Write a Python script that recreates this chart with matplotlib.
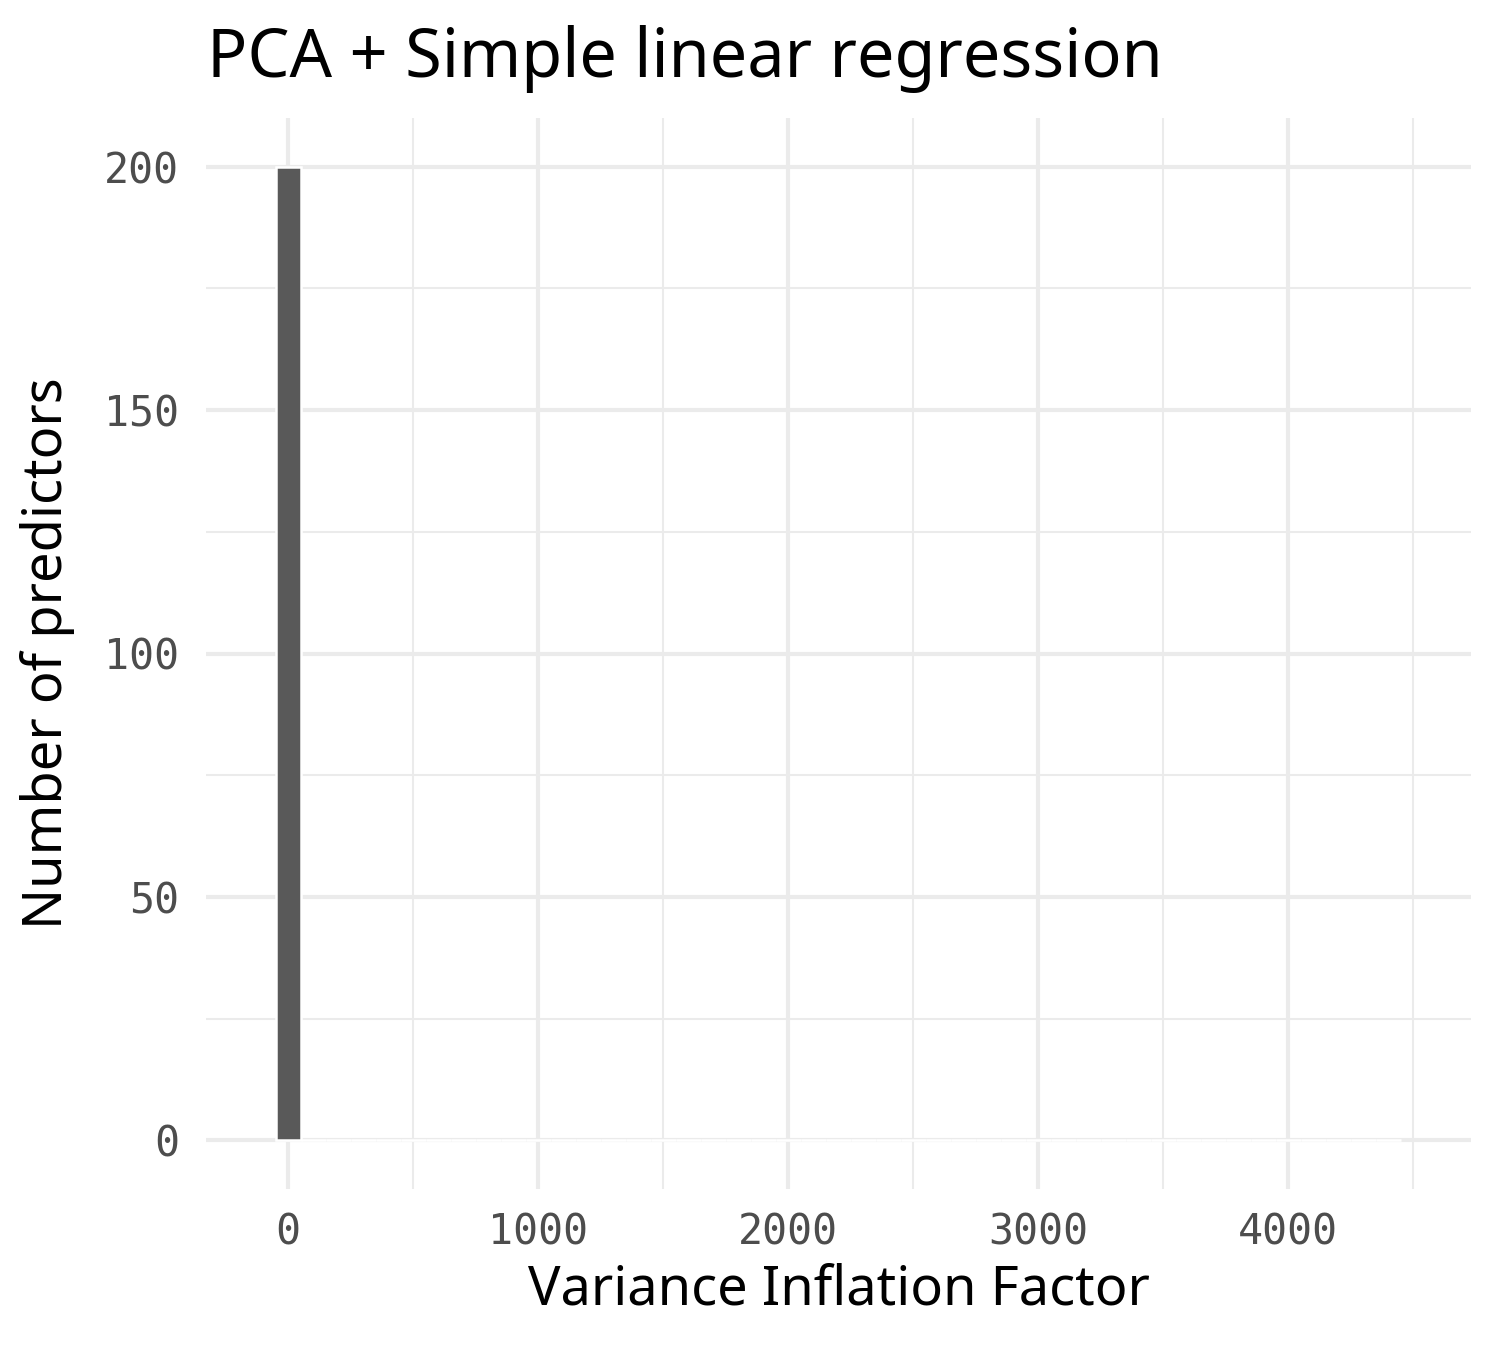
import matplotlib
matplotlib.use("Agg")
import matplotlib.pyplot as plt
import numpy as np

# histogram of VIF values, binwidth 100 centred on multiples of 100
BIN_WIDTH = 100
bin_centers = np.arange(0, 4500, BIN_WIDTH)
counts = [200, 0, 0, 0, 0, 0, 0, 0, 0, 0,
          0, 0, 0, 0, 0, 0, 0, 0, 0, 0,
          0, 0, 0, 0, 0, 0, 0, 0, 0, 0,
          0, 0, 0, 0, 0, 0, 0, 0, 0, 0,
          0, 0, 0, 0, 0]
x_ticks = [0, 1000, 2000, 3000, 4000]
y_ticks = [0, 50, 100, 150, 200]

SANS = ["Noto Sans", "DejaVu Sans"]
MONO = ["DejaVu Sans Mono"]
GRID = "#EBEBEB"
TICK = "#4D4D4D"

fig = plt.figure(figsize=(5, 4.5), dpi=300, facecolor="white")
ax = fig.add_axes([206 / 1500, 1 - 1189 / 1350, 1265 / 1500, 1071 / 1350])

ax.bar(bin_centers, counts, width=BIN_WIDTH, color="#595959",
       edgecolor="white", linewidth=0.6, zorder=3)

ax.set_xlim(-328, 4732)
ax.set_ylim(-10, 210)
ax.set_xticks(x_ticks)
ax.set_yticks(y_ticks)
ax.set_xticks([500, 1500, 2500, 3500, 4500], minor=True)
ax.set_yticks([25, 75, 125, 175], minor=True)
ax.set_xticklabels([str(v) for v in x_ticks], family=MONO, fontsize=10, color=TICK)
ax.set_yticklabels([str(v) for v in y_ticks], family=MONO, fontsize=10, color=TICK)
ax.tick_params(which="both", length=0)
ax.tick_params(axis="x", pad=5.5)
ax.tick_params(axis="y", pad=6.5)

ax.grid(which="major", color=GRID, linewidth=1.0, zorder=0)
ax.grid(which="minor", color=GRID, linewidth=0.5, zorder=0)
ax.set_axisbelow(True)
for s in ax.spines.values():
    s.set_visible(False)

ax.set_xlabel("Variance Inflation Factor", family=SANS, fontsize=13, labelpad=2)
ax.set_ylabel("Number of predictors", family=SANS, fontsize=13, labelpad=7)

fig.text(207 / 1500, 1 - 77 / 1350, "PCA + Simple linear regression",
         family=SANS, fontsize=16, ha="left", va="baseline")

fig.savefig("out.png", dpi=300, facecolor="white")
